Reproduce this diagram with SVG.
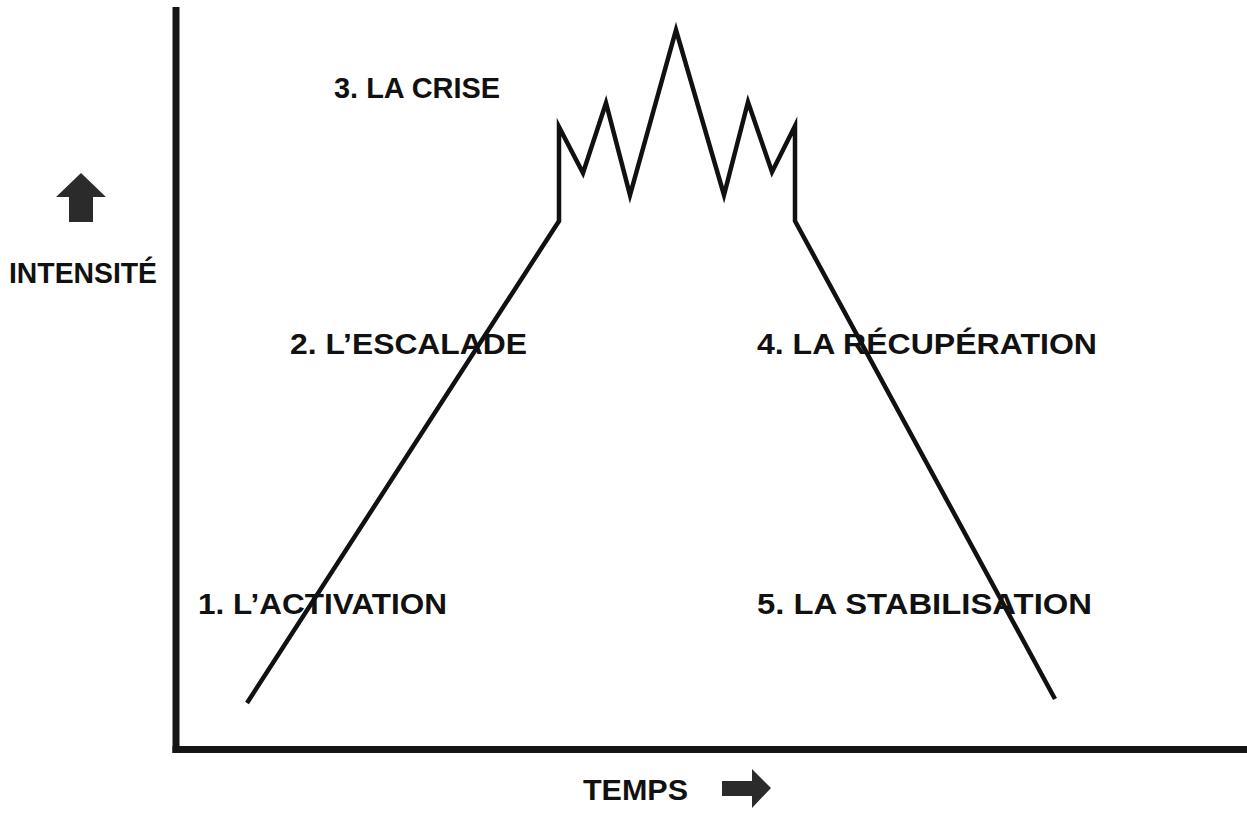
<svg xmlns="http://www.w3.org/2000/svg" width="1247" height="817" viewBox="0 0 1247 817">
<style>
.lbl{font-family:"Liberation Sans",Arial,sans-serif;font-weight:bold;font-size:29px;fill:#111}
.axis{stroke:#151515;stroke-width:7;fill:none}
.curve{stroke:#111;stroke-width:4.5;fill:none;stroke-linejoin:miter;stroke-miterlimit:10}
.arr{fill:#2b2b2b}
</style>
<rect width="1247" height="817" fill="#fff"/>
<g id="axes">
<line class="axis" x1="176" y1="7" x2="176" y2="753"/>
<line class="axis" x1="172.5" y1="749.5" x2="1247" y2="749.5"/>
</g>
<g id="y-axis-label">
<polygon class="arr" points="81,173 106,197 93,197 93,222 69,222 69,197 56,197"/>
<text class="lbl" x="9" y="283" textLength="148" lengthAdjust="spacingAndGlyphs">INTENSITÉ</text>
</g>
<g id="x-axis-label">
<text class="lbl" x="583" y="800" textLength="105" lengthAdjust="spacingAndGlyphs">TEMPS</text>
<polygon class="arr" points="722,781 752,781 752,769 771,788 752,808 752,796 722,796"/>
</g>
<g id="connectors">
<polyline class="curve" points="247,703 559,221 559,127 583,173 606,103 630,195 676,30 724,195 748,102 772,172 795,126 795,221 1055,699"/>
</g>
<g id="phase1"><text class="lbl" x="198" y="614" textLength="249" lengthAdjust="spacingAndGlyphs">1. L’ACTIVATION</text></g>
<g id="phase2"><text class="lbl" x="290" y="354" textLength="237" lengthAdjust="spacingAndGlyphs">2. L’ESCALADE</text></g>
<g id="phase3"><text class="lbl" x="334" y="98" textLength="166" lengthAdjust="spacingAndGlyphs">3. LA CRISE</text></g>
<g id="phase4"><text class="lbl" x="757" y="354" textLength="340" lengthAdjust="spacingAndGlyphs">4. LA RÉCUPÉRATION</text></g>
<g id="phase5"><text class="lbl" x="757" y="614" textLength="335" lengthAdjust="spacingAndGlyphs">5. LA STABILISATION</text></g>
</svg>
